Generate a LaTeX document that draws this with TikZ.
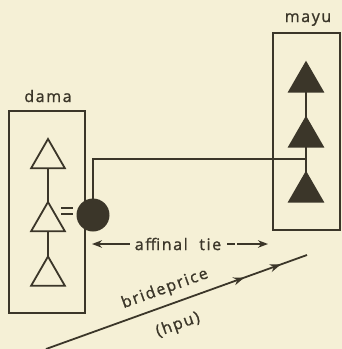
\documentclass[tikz,border=0pt]{standalone}
\usepackage{fontspec}
\setmainfont{Open Sans}[LetterSpace=10,FakeBold=1.2]
\usetikzlibrary{shapes.geometric,arrows.meta,decorations.markings}
\definecolor{paper}{HTML}{F5F0D6}
\definecolor{ink}{HTML}{3B3629}
\begin{document}
\begin{tikzpicture}[x=1pt,y=-1pt,line width=1.8pt,
  kin/.style={regular polygon, regular polygon sides=3, minimum size=39pt,
    inner sep=0pt, outer sep=0pt, draw=ink, line width=1.8pt},
  male/.style={kin, fill=paper},
  malefill/.style={kin, fill=ink},
  grp/.style={draw=ink, line width=1.8pt, inner sep=0pt, outer sep=0pt},
  wife/.style={circle, fill=ink, minimum size=33pt, inner sep=0pt, outer sep=0pt},
  lbl/.style={text=ink, inner sep=0pt, font=\fontsize{16}{18}\selectfont},
  tip/.style={-{Stealth[length=10pt,width=7.5pt]}},
  link/.style={draw=ink, line width=1.8pt}
]
\fill[paper] (0,0) rectangle (342,349);
\useasboundingbox (0,0) rectangle (342,349);

% lineage boxes
\node[grp, minimum width=76pt, minimum height=202pt] (dbox) at (47,212) {};
\node[grp, minimum width=67pt, minimum height=197pt] (mbox) at (306.5,131.5) {};
\node[lbl, anchor=base] (dlab) at (48,102) {dama};
\node[lbl, anchor=base] (mlab) at (308,22) {mayu};

% dama men
\node[male] (d1) at (48,158.5) {};
\node[male] (d2) at (48,221.5) {};
\node[male] (d3) at (48,276) {};
\draw[link] (d1.south) -- (d2.north);
\draw[link] (d2.south) -- (d3.north);

% mayu men
\node[malefill] (m1) at (306,82) {};
\node[malefill] (m2) at (306,137) {};
\node[malefill] (m3) at (306,192) {};
\draw[link] (m1.south) -- (m2.north);
\draw[link] (m2.south) -- (m3.north);

% marriage
\coordinate (e1) at (61,208);
\coordinate (e2) at (73,208);
\coordinate (e3) at (61,214);
\coordinate (e4) at (73,214);
\draw[link] (e1) -- (e2);
\draw[link] (e3) -- (e4);
\node[wife] (w) at (93,215) {};
\coordinate (jn) at (306,159);
\draw[link] (w.north) |- (jn);

% affinal tie
\node[lbl] (aff) at (178,244) {affinal\ \ tie};
\coordinate (al) at (92,244);
\coordinate (ar) at (268,244);
\draw[link, tip] ([xshift=-4pt]aff.west) -- (al);
\draw[link, tip, dash pattern=on 8pt off 2pt on 40pt] ([xshift=5pt]aff.east) -- (ar);

% brideprice
\coordinate (bs) at (46,349);
\coordinate (be) at (307,255);
\draw[link, decoration={markings,
    mark=at position 0.76 with {\arrow{Stealth[length=11pt,width=8pt]}},
    mark=at position 0.90 with {\arrow{Stealth[length=11pt,width=8pt]}}},
  postaction=decorate] (bs) -- (be);
\node[lbl, rotate=19.8] (bp) at (165,289) {brideprice};
\node[lbl, rotate=19.8] (hpu) at (178,325) {(hpu)};
\end{tikzpicture}
\end{document}
